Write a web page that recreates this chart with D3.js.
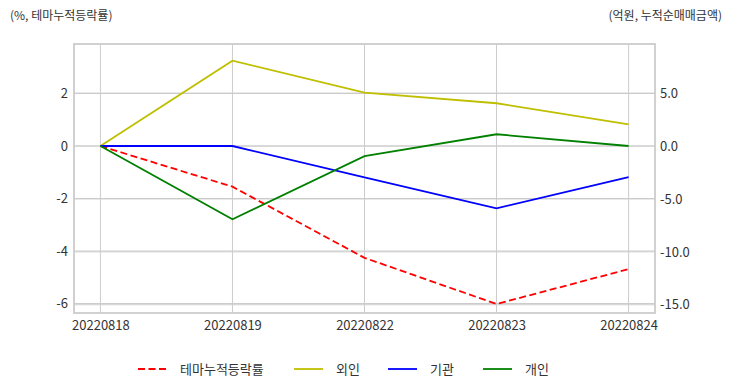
<!DOCTYPE html>
<html>
<head>
<meta charset="utf-8">
<script src="https://cdn.jsdelivr.net/npm/d3@7"></script>
<style>
  body { margin: 0; background: #fff; }
  svg text { font-family: "Noto Sans CJK KR", "Noto Sans", sans-serif; fill: #333; }
</style>
</head>
<body>
<svg id="chart" width="732" height="392"></svg>
<script>
// data
const dates = ["20220818", "20220819", "20220822", "20220823", "20220824"];
const themeRate = [0, -1.55, -4.26, -6.02, -4.69];   // %, left axis
const foreign = [0, 8.06, 5.04, 4.04, 2.05];          // 억원, right axis
const inst = [0, 0, -2.96, -5.89, -2.93];
const retail = [0, -6.93, -0.95, 1.11, 0];
const leftTicks = [2, 0, -2, -4, -6];
const rightTicks = [5, 0, -5, -10, -15];

const svg = d3.select("#chart");
const plot = { left: 74, right: 655, top: 44, bottom: 313 };

// categorical x with 5% padding each side, like matplotlib
const x = d3.scalePoint().domain(dates)
  .range([plot.left, plot.right]).padding(0.2);
const yL = d3.scaleLinear().domain([-6.362, 3.886]).range([plot.bottom, plot.top]);
const yR = d3.scaleLinear().domain([-15.78, 9.64]).range([plot.bottom, plot.top]);

const gridColor = "#cccccc";

// grids (both y axes draw their own)
const grid = svg.append("g");
grid.selectAll(".vx").data(dates).enter().append("line")
  .attr("x1", d => x(d)).attr("x2", d => x(d))
  .attr("y1", plot.top).attr("y2", plot.bottom)
  .attr("stroke", gridColor).attr("stroke-width", 1);
grid.selectAll(".hl").data(leftTicks).enter().append("line")
  .attr("x1", plot.left).attr("x2", plot.right)
  .attr("y1", d => yL(d)).attr("y2", d => yL(d))
  .attr("stroke", gridColor).attr("stroke-width", 1);
grid.selectAll(".hr").data(rightTicks).enter().append("line")
  .attr("x1", plot.left).attr("x2", plot.right)
  .attr("y1", d => yR(d)).attr("y2", d => yR(d))
  .attr("stroke", gridColor).attr("stroke-width", 1);

// frame
svg.append("rect")
  .attr("x", plot.left).attr("y", plot.top)
  .attr("width", plot.right - plot.left).attr("height", plot.bottom - plot.top)
  .attr("fill", "none").attr("stroke", gridColor).attr("stroke-width", 1.8);

// axes, labels only
const axL = svg.append("g").attr("transform", "translate(" + plot.left + ",0)")
  .call(d3.axisLeft(yL).tickValues(leftTicks).tickSize(0).tickPadding(6));
const axR = svg.append("g").attr("transform", "translate(" + plot.right + ",0)")
  .call(d3.axisRight(yR).tickValues(rightTicks).tickSize(0).tickPadding(5));
const axX = svg.append("g").attr("transform", "translate(0," + plot.bottom + ")")
  .call(d3.axisBottom(x).tickSize(0).tickPadding(8));
axL.selectAll("text").text(d => String(d));
axR.selectAll("text").text(d => d.toFixed(1));
[axL, axR, axX].forEach(a => {
  a.select(".domain").remove();
  a.selectAll("text").attr("font-size", 13)
    .style("font-family", "'Noto Sans CJK KR', sans-serif").attr("fill", "#333");
});

// lines
const lineL = d3.line().x((d, i) => x(dates[i])).y(d => yL(d));
const lineR = d3.line().x((d, i) => x(dates[i])).y(d => yR(d));

const series = [
  { name: "테마누적등락률", values: themeRate, color: "#ff0000", dash: "7,3.5", gen: lineL },
  { name: "외인", values: foreign, color: "#bfbf00", dash: null, gen: lineR },
  { name: "기관", values: inst, color: "#0000ff", dash: null, gen: lineR },
  { name: "개인", values: retail, color: "#008000", dash: null, gen: lineR }
];

series.forEach(s => {
  svg.append("path").datum(s.values)
    .attr("d", s.gen)
    .attr("fill", "none")
    .attr("stroke", s.color)
    .attr("stroke-width", 1.8)
    .attr("stroke-dasharray", s.dash);
});

// axis titles
svg.append("text").attr("x", 10).attr("y", 20)
  .attr("font-size", 12).text("(%, 테마누적등락률)");
svg.append("text").attr("x", 722).attr("y", 20)
  .attr("font-size", 12).attr("text-anchor", "end").text("(억원, 누적순매매금액)");

// legend
const legendX = [138, 294, 388, 483];
const legend = svg.append("g");
series.forEach((s, i) => {
  const g = legend.append("g").attr("transform", "translate(" + legendX[i] + ",369)");
  g.append("line").attr("x1", 0).attr("x2", 29).attr("y1", 0).attr("y2", 0)
    .attr("stroke", s.color).attr("stroke-width", 1.8).attr("stroke-dasharray", s.dash);
  g.append("text").attr("x", 42).attr("y", 5).attr("font-size", 13).text(s.name);
});
</script>
</body>
</html>
